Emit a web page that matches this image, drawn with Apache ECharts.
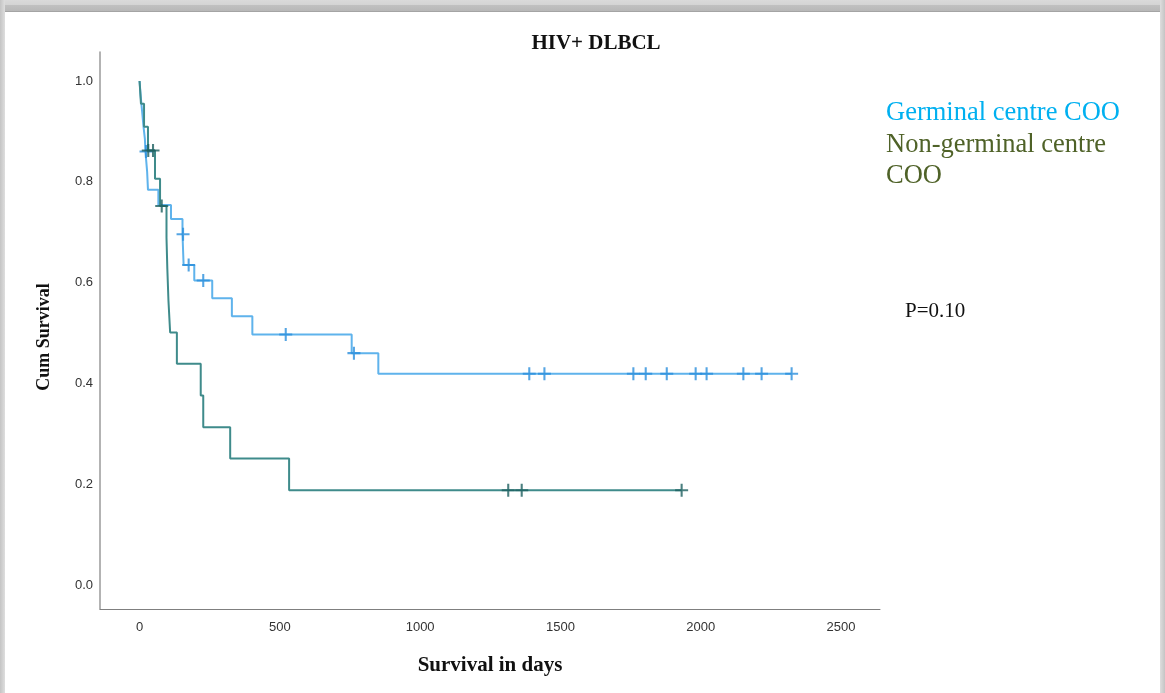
<!DOCTYPE html>
<html>
<head>
<meta charset="utf-8">
<title>HIV+ DLBCL</title>
<script src="https://cdn.jsdelivr.net/npm/echarts@6/dist/echarts.min.js"></script>
<style>
  html, body { margin: 0; padding: 0; background: #ffffff; }
  #chart { width: 1165px; height: 693px; }
</style>
</head>
<body>
<div id="chart"></div>
<script>
// Kaplan-Meier steps: time of each event (days) and survival after it
const gcbTimes = [0, 4, 9, 14, 19, 21, 27, 30, 67, 112, 153, 157, 195, 259, 329, 402, 756, 851];
const gcbSurv  = [1.0, 0.97, 0.94, 0.91, 0.885, 0.86, 0.82, 0.784, 0.754, 0.726, 0.696, 0.635, 0.604, 0.569, 0.533, 0.497, 0.46, 0.419];
const gcbCensored = [23, 155, 175, 227, 521, 764, 1389, 1443, 1760, 1804, 1879, 1982, 2021, 2152, 2217, 2324];

const ngcbTimes = [0, 5, 16, 30, 55, 73, 96, 99, 103, 109, 133, 218, 227, 323, 533];
const ngcbSurv  = [1.0, 0.955, 0.909, 0.862, 0.806, 0.752, 0.689, 0.627, 0.564, 0.501, 0.439, 0.376, 0.313, 0.251, 0.188];
const ngcbCensored = [31, 48, 79, 1314, 1362, 1932];

const xTicks = [0, 500, 1000, 1500, 2000, 2500];
const yTicks = [0.0, 0.2, 0.4, 0.6, 0.8, 1.0];

const groupNames = ['Germinal centre COO', 'Non-germinal centre COO'];
const pValueText = 'P=0.10';

// survival value of a step function at time t
function survivalAt(times, surv, t) {
  let s = surv[0];
  for (let i = 0; i < times.length; i++) {
    if (times[i] <= t) s = surv[i];
  }
  return s;
}

function stepData(times, surv, censored) {
  const pts = times.map((t, i) => [t, surv[i]]);
  const lastT = censored[censored.length - 1];
  if (lastT > times[times.length - 1]) pts.push([lastT, surv[surv.length - 1]]);
  return pts;
}

function censorData(times, surv, censored) {
  return censored.map(t => [t, survivalAt(times, surv, t)]);
}

const plusPath = 'path://M4.2,0h1.6v4.2h4.2v1.6h-4.2v4.2h-1.6v-4.2h-4.2v-1.6h4.2z';

const chart = echarts.init(document.getElementById('chart'), null, { renderer: 'canvas' });

const serif = '"Liberation Serif", "DejaVu Serif", serif';

chart.setOption({
  animation: false,
  backgroundColor: '#ffffff',
  title: {
    text: 'HIV+ DLBCL',
    left: 591,
    top: 28,
    textAlign: 'center',
    textStyle: { fontFamily: serif, fontWeight: 'bold', fontSize: 21, color: '#111' }
  },
  grid: { left: 100, right: 285, top: 52, bottom: 84 },
  xAxis: {
    type: 'value',
    min: -141,
    max: 2639,
    name: 'Survival in days',
    nameLocation: 'middle',
    nameGap: 46,
    nameTextStyle: { fontFamily: serif, fontWeight: 'bold', fontSize: 21, color: '#111' },
    axisLine: { show: true, onZero: false, lineStyle: { color: '#7f7f7f', width: 1 } },
    axisTick: { show: false },
    splitLine: { show: false },
    axisLabel: {
      customValues: xTicks,
      formatter: v => String(v),
      fontFamily: '"Liberation Sans", Arial, sans-serif',
      fontSize: 13,
      color: '#333',
      margin: 12
    }
  },
  yAxis: {
    type: 'value',
    min: -0.0476,
    max: 1.0575,
    axisLine: { show: true, onZero: false, lineStyle: { color: '#9a9a9a', width: 1.5 } },
    axisTick: { show: false },
    splitLine: { show: false },
    axisLabel: {
      customValues: yTicks,
      formatter: v => v.toFixed(1),
      fontFamily: '"Liberation Sans", Arial, sans-serif',
      fontSize: 13,
      color: '#333',
      margin: 7
    }
  },
  series: [
    {
      name: groupNames[0],
      type: 'line',
      step: 'end',
      showSymbol: false,
      lineStyle: { color: '#5fb3ec', width: 2 },
      data: stepData(gcbTimes, gcbSurv, gcbCensored),
      z: 2
    },
    {
      name: groupNames[0] + ' censored',
      type: 'scatter',
      symbol: plusPath,
      symbolSize: 13,
      itemStyle: { color: '#2a8fdc' },
      data: censorData(gcbTimes, gcbSurv, gcbCensored),
      z: 3
    },
    {
      name: groupNames[1],
      type: 'line',
      step: 'end',
      showSymbol: false,
      lineStyle: { color: '#3f8b8b', width: 2 },
      data: stepData(ngcbTimes, ngcbSurv, ngcbCensored),
      z: 4
    },
    {
      name: groupNames[1] + ' censored',
      type: 'scatter',
      symbol: plusPath,
      symbolSize: 13,
      itemStyle: { color: '#1d5f5f' },
      data: censorData(ngcbTimes, ngcbSurv, ngcbCensored),
      z: 5
    }
  ],
  graphic: [
    // window frame edges
    {
      type: 'rect', silent: true, z: 100,
      shape: { x: 0, y: 0, width: 1165, height: 11 },
      style: { fill: new echarts.graphic.LinearGradient(0, 0, 0, 1, [
        { offset: 0, color: '#dadada' }, { offset: 0.45, color: '#d4d4d4' },
        { offset: 0.5, color: '#c0c0c0' }, { offset: 1, color: '#b8b8b8' }]) }
    },
    {
      type: 'rect', silent: true, z: 100,
      shape: { x: 0, y: 11, width: 1165, height: 1 },
      style: { fill: '#a4a4a4' }
    },
    {
      type: 'rect', silent: true, z: 100,
      shape: { x: 0, y: 0, width: 5, height: 693 },
      style: { fill: new echarts.graphic.LinearGradient(0, 0, 1, 0, [
        { offset: 0, color: '#c4c4c4' }, { offset: 1, color: '#dedede' }]) }
    },
    {
      type: 'rect', silent: true, z: 100,
      shape: { x: 1160, y: 0, width: 5, height: 693 },
      style: { fill: new echarts.graphic.LinearGradient(0, 0, 1, 0, [
        { offset: 0, color: '#dedede' }, { offset: 1, color: '#c4c4c4' }]) }
    },
    // y axis title
    {
      type: 'text', x: 44, y: 337, rotation: Math.PI / 2, z: 10,
      style: {
        text: 'Cum Survival', font: 'bold 18px ' + serif, fill: '#111',
        align: 'center', verticalAlign: 'middle'
      }
    },
    // group labels
    {
      type: 'text', left: 886, top: 100, z: 10,
      style: { text: groupNames[0], font: '26.5px ' + serif, fill: '#00b0f0' }
    },
    {
      type: 'text', left: 886, top: 130, z: 10,
      style: { text: 'Non-germinal centre\nCOO', font: '26.5px ' + serif, lineHeight: 31, fill: '#4f6228' }
    },
    {
      type: 'text', left: 905, top: 301, z: 10,
      style: { text: pValueText, font: '21px ' + serif, fill: '#111' }
    }
  ]
});
</script>
</body>
</html>
